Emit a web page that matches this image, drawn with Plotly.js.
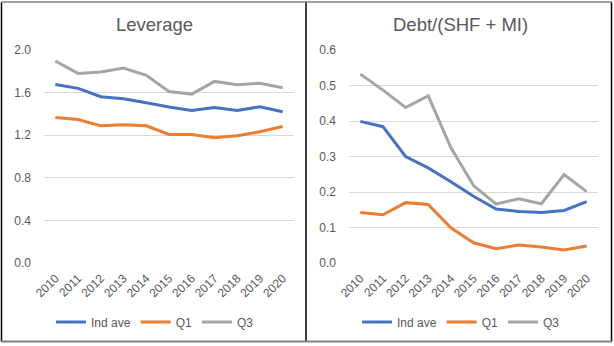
<!DOCTYPE html>
<html>
<head>
<meta charset="utf-8">
<script src="https://cdn.plot.ly/plotly-3.0.1.min.js"></script>
<style>html,body{margin:0;padding:0;background:#fff;}#chart{width:614px;height:346px;}</style>
</head>
<body>
<div id="chart"></div>
<script>
const years = ['2010','2011','2012','2013','2014','2015','2016','2017','2018','2019','2020'];
const levIndAve = [1.677,1.640,1.561,1.542,1.505,1.464,1.433,1.461,1.433,1.467,1.420];
const levQ1 = [1.367,1.348,1.288,1.298,1.288,1.207,1.207,1.176,1.194,1.232,1.282];
const levQ3 = [1.897,1.780,1.793,1.831,1.762,1.611,1.586,1.705,1.674,1.687,1.646];
const debtIndAve = [0.399,0.384,0.300,0.268,0.229,0.188,0.152,0.145,0.142,0.148,0.173];
const debtQ1 = [0.142,0.136,0.170,0.165,0.099,0.057,0.040,0.051,0.045,0.037,0.048];
const debtQ3 = [0.532,0.487,0.438,0.471,0.325,0.218,0.166,0.181,0.167,0.249,0.201];
const seriesNames = ['Ind ave','Q1','Q3'];
const leftTitle = 'Leverage';
const rightTitle = 'Debt/(SHF + MI)';

const colors = ['#4472C4','#ED7D31','#A5A5A5'];
const W = 614, H = 346;
const px = x => x / W;
const py = y => (H - y) / H;
const font = 'Arial, "Liberation Sans", sans-serif';
const txt = '#595959';

function mk(y, i, ax, leg) {
  return {x: years, y: y, name: seriesNames[i], type: 'scatter', mode: 'lines',
    line: {color: colors[i], width: 3}, xaxis: ax[0], yaxis: ax[1], legend: leg, showlegend: true};
}
const traces = [
  mk(levIndAve,0,['x','y'],'legend'), mk(levQ1,1,['x','y'],'legend'), mk(levQ3,2,['x','y'],'legend'),
  mk(debtIndAve,0,['x2','y2'],'legend2'), mk(debtQ1,1,['x2','y2'],'legend2'), mk(debtQ3,2,['x2','y2'],'legend2')
];

const xCommon = {type:'category', range:[-0.5, years.length - 0.5], tickangle:-45, showgrid:false, zeroline:false, showline:false,
  ticks:'', ticklabelstandoff:5, tickfont:{family:font,size:12,color:txt}, fixedrange:true};
const yCommon = {showgrid:true, gridcolor:'#D9D9D9', gridwidth:1, zeroline:false, showline:false,
  ticks:'', ticklabelstandoff:12, tickfont:{family:font,size:12,color:txt}, fixedrange:true};

const legCommon = {orientation:'h', xanchor:'center', yanchor:'middle', font:{family:font,size:12,color:txt},
  bgcolor:'rgba(0,0,0,0)', itemwidth:30, tracegroupgap:0};

const layout = {
  width: W, height: H, margin:{l:0,r:0,t:0,b:0}, paper_bgcolor:'#fff', plot_bgcolor:'#fff',
  xaxis: Object.assign({}, xCommon, {domain:[px(44), px(294)], anchor:'y'}),
  yaxis: Object.assign({}, yCommon, {domain:[py(263), py(50)], range:[0,2.0], dtick:0.4, tickformat:'.1f', anchor:'x'}),
  xaxis2: Object.assign({}, xCommon, {domain:[px(349), px(598)], anchor:'y2'}),
  yaxis2: Object.assign({}, yCommon, {domain:[py(263), py(50)], range:[0,0.6], dtick:0.1, tickformat:'.1f', anchor:'x2'}),
  legend: Object.assign({}, legCommon, {x: px(155), y: py(322)}),
  legend2: Object.assign({}, legCommon, {x: px(461), y: py(322)}),
  annotations: [
    {text: leftTitle, xref:'paper', yref:'paper', x: px(154), y: py(25), showarrow:false,
     font:{family:font,size:18.5,color:txt}, xanchor:'center', yanchor:'middle'},
    {text: rightTitle, xref:'paper', yref:'paper', x: px(460), y: py(25), showarrow:false,
     font:{family:font,size:18.5,color:txt}, xanchor:'center', yanchor:'middle'}
  ],
  shapes: [
    {type:'line', xref:'paper', yref:'paper', x0:px(1.5), x1:px(1.5), y0:py(2), y1:py(342), line:{color:'#000',width:1.5}},
    {type:'line', xref:'paper', yref:'paper', x0:px(306), x1:px(306), y0:py(2), y1:py(342), line:{color:'#000',width:1.5}},
    {type:'line', xref:'paper', yref:'paper', x0:px(611.5), x1:px(611.5), y0:py(2), y1:py(342), line:{color:'#000',width:1.5}},
    {type:'line', xref:'paper', yref:'paper', x0:px(1), x1:px(612), y0:py(2), y1:py(2), line:{color:'#808080',width:1.5}},
    {type:'line', xref:'paper', yref:'paper', x0:px(1), x1:px(612), y0:py(341.5), y1:py(341.5), line:{color:'#808080',width:2}}
  ]
};
Plotly.newPlot('chart', traces, layout, {staticPlot:true, displayModeBar:false});
</script>
</body>
</html>
